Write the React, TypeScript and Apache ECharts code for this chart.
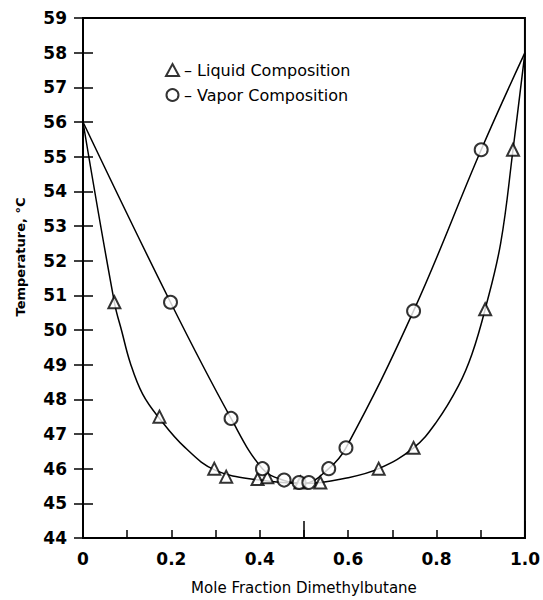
import React, { useEffect, useRef } from 'react';
import * as echarts from 'echarts';

const liquidX = [0.071, 0.173, 0.297, 0.324, 0.395, 0.417, 0.492, 0.537, 0.669, 0.748, 0.91, 0.973];
const liquidT = [50.8, 47.5, 46.0, 45.77, 45.7, 45.75, 45.6, 45.6, 46.0, 46.6, 50.6, 55.2];
const vaporX = [0.198, 0.335, 0.406, 0.455, 0.489, 0.511, 0.556, 0.595, 0.748, 0.901];
const vaporT = [50.8, 47.45, 46.0, 45.67, 45.6, 45.6, 46.0, 46.6, 50.55, 55.2];

// Drawn curves
const liquidCurveX = [0, 0.071, 0.088, 0.107, 0.135, 0.173, 0.23, 0.3, 0.4, 0.5, 0.6, 0.669, 0.748, 0.8, 0.85, 0.88, 0.91, 0.945, 0.973, 1];
const liquidCurveT = [56, 50.8, 49.95, 49.05, 48.15, 47.45, 46.62, 45.95, 45.67, 45.57, 45.74, 46.0, 46.6, 47.35, 48.4, 49.3, 50.6, 52.5, 55.2, 58];
const vaporCurveX = [0, 0.198, 0.335, 0.406, 0.455, 0.5, 0.556, 0.595, 0.748, 0.901, 1];
const vaporCurveT = [56, 50.8, 47.45, 46.0, 45.66, 45.58, 46.0, 46.6, 50.55, 55.2, 58];

const xTickLabels = ['0', '0.2', '0.4', '0.6', '0.8', '1.0'];
const yMin = 44;
const yMax = 59;

const FONT = 'DejaVu Sans';

export default function App() {
  const ref = useRef<HTMLDivElement>(null);
  useEffect(() => {
    if (!ref.current) return;
    const chart = echarts.init(ref.current, undefined, { renderer: 'svg' });
    const zip = (xs: number[], ys: number[]) => xs.map((x, i) => [x, ys[i]]);
    chart.setOption({
      animation: false,
      backgroundColor: '#fff',
      grid: {
        left: 83,
        right: 16,
        top: 18,
        bottom: 57,
        show: true,
        borderColor: '#000',
        borderWidth: 2,
        backgroundColor: 'transparent',
      },
      legend: {
        orient: 'vertical',
        left: 160,
        top: 57,
        itemGap: 9,
        itemWidth: 13,
        itemHeight: 12,
        data: ['Liquid Composition', 'Vapor Composition'],
        formatter: (name: string) => '– ' + name,
        textStyle: { fontFamily: FONT, fontSize: 16, color: '#000' },
      },
      graphic: [
        {
          type: 'text',
          x: 20,
          y: 257,
          rotation: Math.PI / 2,
          style: {
            text: 'Temperature, °C',
            fontFamily: FONT,
            fontSize: 13,
            fontWeight: 'bold',
            fill: '#000',
            textAlign: 'center',
            textVerticalAlign: 'middle',
          },
        },
      ],
      xAxis: [
        {
          type: 'value',
          min: 0,
          max: 1,
          interval: 0.1,
          name: 'Mole Fraction Dimethylbutane',
          nameLocation: 'middle',
          nameGap: 42,
          nameTextStyle: { fontFamily: FONT, fontSize: 15, color: '#000' },
          axisLine: { show: true, lineStyle: { color: '#000', width: 2 } },
          axisTick: { show: true, inside: true, length: 8, lineStyle: { color: '#000', width: 1.5 } },
          axisLabel: {
            fontFamily: FONT,
            fontSize: 17,
            fontWeight: 'bold',
            color: '#000',
            margin: 12,
            formatter: (v: number) => {
              const k = Math.round(v * 10);
              return k % 2 === 0 ? xTickLabels[k / 2] : '';
            },
          },
          splitLine: { show: false },
        },
        {
          type: 'value',
          min: 0,
          max: 1,
          interval: 0.5,
          position: 'bottom',
          axisLine: { show: false },
          axisTick: { show: true, inside: true, length: 17, lineStyle: { color: '#000', width: 1.5 } },
          axisLabel: { show: false },
          splitLine: { show: false },
        },
      ],
      yAxis: [
        {
          type: 'value',
          min: yMin,
          max: yMax,
          interval: 1,
          axisLine: { show: true, lineStyle: { color: '#000', width: 2 } },
          axisTick: { show: true, inside: true, length: 10, lineStyle: { color: '#000', width: 1.5 } },
          axisLabel: { fontFamily: FONT, fontSize: 17, fontWeight: 'bold', color: '#000', margin: 16 },
          splitLine: { show: false },
        },
        {
          type: 'value',
          min: yMin,
          max: yMax,
          interval: 1,
          position: 'right',
          axisLine: { show: true, lineStyle: { color: '#000', width: 2 } },
          axisTick: { show: true, inside: true, length: 9, lineStyle: { color: '#000', width: 1.5 } },
          axisLabel: { show: false },
          splitLine: { show: false },
        },
      ],
      series: [
        {
          type: 'line',
          data: zip(liquidCurveX, liquidCurveT),
          smooth: 0.4,
          symbol: 'none',
          lineStyle: { color: '#000', width: 1.5 },
          silent: true,
          z: 2,
        },
        {
          type: 'line',
          data: zip(vaporCurveX, vaporCurveT),
          smooth: 0.4,
          symbol: 'none',
          lineStyle: { color: '#000', width: 1.5 },
          silent: true,
          z: 2,
        },
        {
          name: 'Liquid Composition',
          type: 'scatter',
          data: zip(liquidX, liquidT),
          symbol: 'triangle',
          symbolSize: 12,
          itemStyle: { color: '#fff', borderColor: '#000', borderWidth: 2 },
          z: 5,
        },
        {
          name: 'Vapor Composition',
          type: 'scatter',
          data: zip(vaporX, vaporT),
          symbol: 'circle',
          symbolSize: 13,
          itemStyle: { color: '#fff', borderColor: '#000', borderWidth: 2 },
          z: 5,
        },
      ],
    });
    return () => chart.dispose();
  }, []);
  return (
    <div
      ref={ref}
      style={{ position: 'fixed', left: 0, top: 0, width: 543, height: 600, background: '#fff' }}
    />
  );
}
